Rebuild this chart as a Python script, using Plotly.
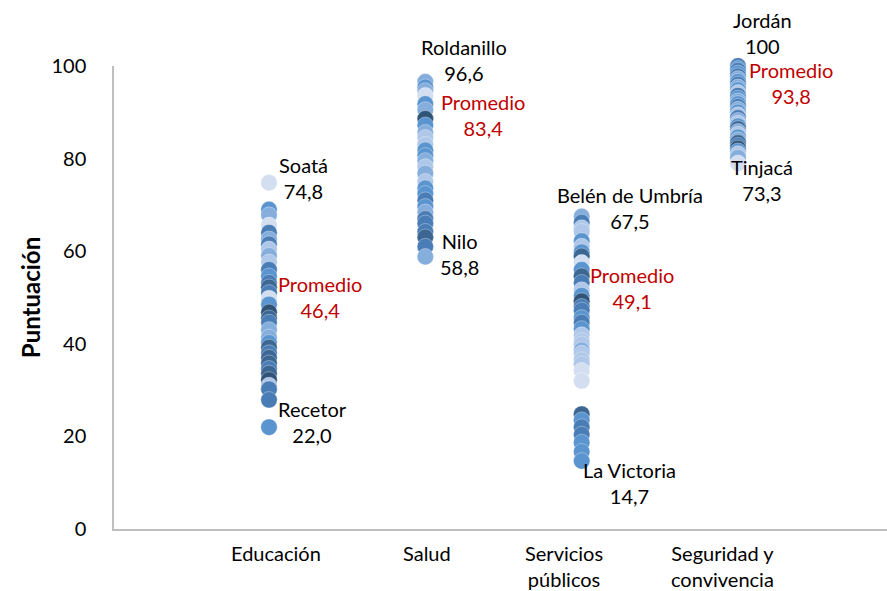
import plotly.graph_objects as go

# categories on the x axis (position 1..4)
categorias = ["Educación", "Salud", "Servicios<br>públicos", "Seguridad y<br>convivencia"]

# scores of each municipality, plus a shade group per point
educacion = [74.8, 69.0, 67.8, 65.6, 64.0, 62.6, 61.5, 60.4, 59.0, 57.6, 56.0, 54.6,
             53.2, 52.2, 51.0, 49.8, 48.5, 46.8, 45.5, 44.6, 43.0, 41.4, 40.2, 39.2,
             38.0, 37.0, 35.8, 34.6, 33.6, 32.2, 31.0, 30.2, 27.9, 22.0]
educacion_grp = [0, 3, 2, 0, 4, 2, 4, 1, 2, 1, 4, 3,
                 4, 5, 4, 0, 3, 6, 5, 4, 2, 2, 3, 5,
                 4, 5, 5, 4, 5, 6, 1, 4, 4, 3]

salud = [96.6, 95.4, 94.6, 93.6, 91.8, 90.5, 88.6, 87.2, 85.6, 84.5, 83.0, 81.8,
         80.6, 79.5, 78.2, 76.8, 75.0, 73.6, 72.4, 71.0, 69.6, 68.4, 67.0, 66.0,
         64.2, 63.0, 61.0, 58.8]
salud_grp = [2, 3, 2, 0, 3, 2, 6, 3, 2, 1, 1, 3,
             3, 2, 1, 2, 1, 3, 3, 4, 3, 2, 4, 4,
             4, 5, 4, 2]

servicios = [67.5, 66.2, 65.0, 64.2, 62.2, 61.0, 59.8, 58.9, 57.5, 56.0, 54.6, 53.2,
             51.6, 50.4, 49.2, 48.0, 47.2, 45.6, 44.6, 43.2, 41.9, 40.6, 39.9, 38.6,
             37.9, 36.5, 35.6, 34.2, 32.0,
             24.8, 23.5, 22.0, 20.4, 18.7, 16.7, 14.7]
servicios_grp = [2, 4, 1, 1, 3, 1, 3, 5, 0, 3, 5, 4,
                 1, 3, 6, 4, 4, 3, 4, 3, 1, 1, 1, 2,
                 1, 1, 1, 0, 0,
                 5, 3, 4, 4, 3, 3, 3]

seguridad = [100.0, 99.4, 99.0, 98.4, 97.8, 97.2, 96.6, 96.0, 95.4, 94.8, 94.2, 93.6,
             93.0, 92.4, 91.8, 91.2, 90.6, 90.0, 89.4, 88.8, 88.2, 87.6, 87.0, 86.4,
             85.8, 85.2, 84.6, 84.0, 83.4, 82.8, 82.2, 81.6, 81.0, 80.2, 79.0]
seguridad_grp = [4, 3, 4, 3, 4, 2, 3, 4, 2, 3, 1, 4,
                 3, 2, 3, 4, 2, 3, 1, 4, 2, 1, 3, 5,
                 2, 1, 3, 2, 5, 4, 6, 3, 1, 2, 0]

# labelled extremes and averages
max_nombres = ["Soatá", "Roldanillo", "Belén de Umbría", "Jordán"]
max_valores = [74.8, 96.6, 67.5, 100.0]
min_nombres = ["Recetor", "Nilo", "La Victoria", "Tinjacá"]
min_valores = [22.0, 58.8, 14.7, 73.3]
promedios = [46.4, 83.4, 49.1, 93.8]

series = [(educacion, educacion_grp), (salud, salud_grp),
          (servicios, servicios_grp), (seguridad, seguridad_grp)]

tonos = ["#D3DFF1", "#AFC7E8", "#86AEDD", "#5B95D0", "#4A7DB6", "#3D6793", "#2F5478"]
fuente = "Lato, Calibri, sans-serif"


def fmt(v):
    if v == int(v) and v >= 100:
        return str(int(v))
    return f"{v:.1f}".replace(".", ",")


fig = go.Figure()
for i, (vals, grp) in enumerate(series, 1):
    fig.add_trace(go.Scatter(
        x=[i] * len(vals), y=vals, mode="markers", cliponaxis=False, showlegend=False,
        marker=dict(size=16.5, color=[tonos[g] for g in grp],
                    line=dict(width=0.6, color="rgba(255,255,255,0.55)"))))

# label offsets in pixels (xshift, yshift)
off_max = [(34, 5), (39, 22), (48, 8), (24, 33)]
off_min = [(43, 5), (34, 3), (48, -22), (24, 10)]
off_prom = [(51, 17), (58, 28), (50, 14), (53, 12)]

for i in range(4):
    cat = i + 1
    fig.add_annotation(x=cat, y=max_valores[i], text=f"{max_nombres[i]}<br>{fmt(max_valores[i])}",
                       xshift=off_max[i][0], yshift=off_max[i][1], showarrow=False,
                       font=dict(color="black"))
    fig.add_annotation(x=cat, y=min_valores[i], text=f"{min_nombres[i]}<br>{fmt(min_valores[i])}",
                       xshift=off_min[i][0], yshift=off_min[i][1], showarrow=False,
                       font=dict(color="black"))
    fig.add_annotation(x=cat, y=promedios[i], text=f"Promedio<br>{fmt(promedios[i])}",
                       xshift=off_prom[i][0], yshift=off_prom[i][1], showarrow=False,
                       font=dict(color="#C00000"))

# category labels under the axis
cat_shift = [7, 2, -18, -16]
for i, c in enumerate(categorias):
    fig.add_annotation(x=i + 1, y=0, yref="paper", yanchor="top", yshift=-10,
                       xshift=cat_shift[i], text=c, showarrow=False, font=dict(color="black"))

fig.update_annotations(font_family=fuente, font_size=20)

fig.update_layout(
    width=887, height=591,
    margin=dict(l=114, r=0, t=66, b=62),
    plot_bgcolor="white", paper_bgcolor="white",
    font=dict(family=fuente, size=20, color="black"),
)
fig.update_xaxes(range=[0.0085, 4.953], showticklabels=False, showgrid=False, zeroline=False,
                 showline=True, linecolor="#BFBFBF", linewidth=1.5)
fig.update_yaxes(range=[0, 100], dtick=20, showgrid=False, zeroline=False,
                 showline=True, linecolor="#BFBFBF", linewidth=1.5,
                 ticklabelstandoff=22,
                 title=dict(text="<b>Puntuación</b>", font=dict(size=24), standoff=4))

fig.write_html("out.html", config={"displayModeBar": False},
               post_script="document.body.style.margin='0';")
